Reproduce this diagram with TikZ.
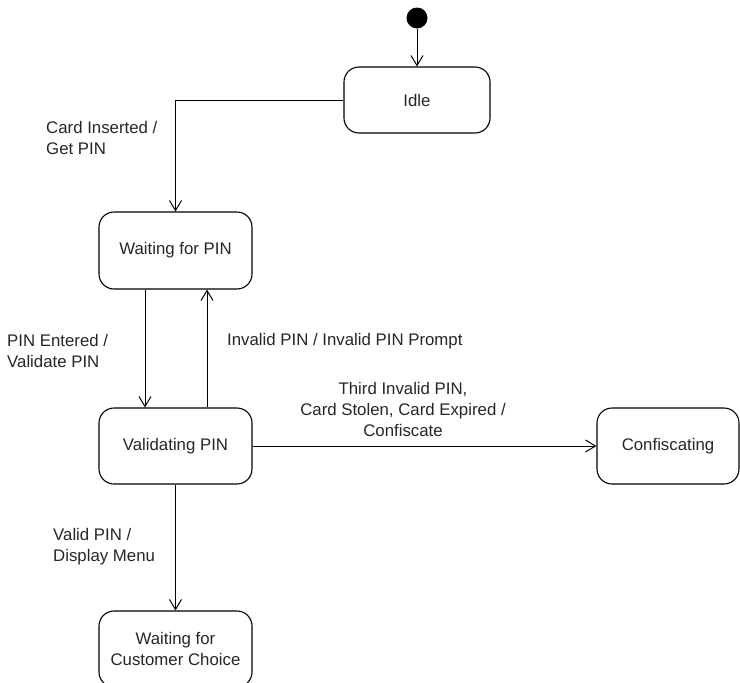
\documentclass[tikz,border=0pt]{standalone}
\usepackage{fontspec}
\setmainfont{Liberation Sans}
\usetikzlibrary{arrows.meta}
\begin{document}
\begin{tikzpicture}[x=1pt,y=-1pt,
  every node/.style={font=\fontsize{16.8}{21}\selectfont, text=black!85},
  state/.style={draw, line width=1.1pt, rounded corners=15pt, align=center, inner sep=0pt},
  lbl/.style={align=left, inner sep=0pt},
  tr/.style={line width=1pt, -{Straight Barb[length=10pt,width=12pt]}}]
\useasboundingbox (0,0) rectangle (740,683);
\node[circle, fill=black, minimum size=21pt, inner sep=0pt] (init) at (417,18) {};
\node[state, minimum width=146pt, minimum height=66pt] (idle) at (417,100) {Idle};
\node[state, minimum width=153pt, minimum height=77pt] (wait) at (175.5,250.5) {Waiting for PIN};
\node[state, minimum width=153pt, minimum height=76pt] (valid) at (175.5,446) {Validating PIN};
\node[state, minimum width=142pt, minimum height=76pt] (conf) at (668,446) {Confiscating};
\node[state, minimum width=153pt, minimum height=76pt] (cust) at (175.5,649) {Waiting for\\Customer Choice};

\draw[tr] (init) -- (idle);
\draw[tr] (idle.west) -| (wait.north);
\draw[tr] ([xshift=-30.5pt]wait.south) -- ([xshift=-30.5pt]valid.north);
\draw[tr] ([xshift=31.5pt]valid.north) -- ([xshift=31.5pt]wait.south);
\draw[tr] (valid.east) -- (conf.west);
\draw[tr] (valid.south) -- (cust.north);

\node[lbl, anchor=west] (l1) at (46,137.5) {Card Inserted /\\Get PIN};
\node[lbl, anchor=west] (l2) at (7,350.5) {PIN Entered /\\Validate PIN};
\node[lbl, anchor=west] (l3) at (227,341) {Invalid PIN / Invalid PIN Prompt};
\node[align=center, inner sep=0pt] (l4) at (403,409) {Third Invalid PIN,\\Card Stolen, Card Expired /\\Confiscate};
\node[lbl, anchor=west] (l5) at (53,547) {Valid PIN /\\Display Menu};
\end{tikzpicture}
\end{document}
